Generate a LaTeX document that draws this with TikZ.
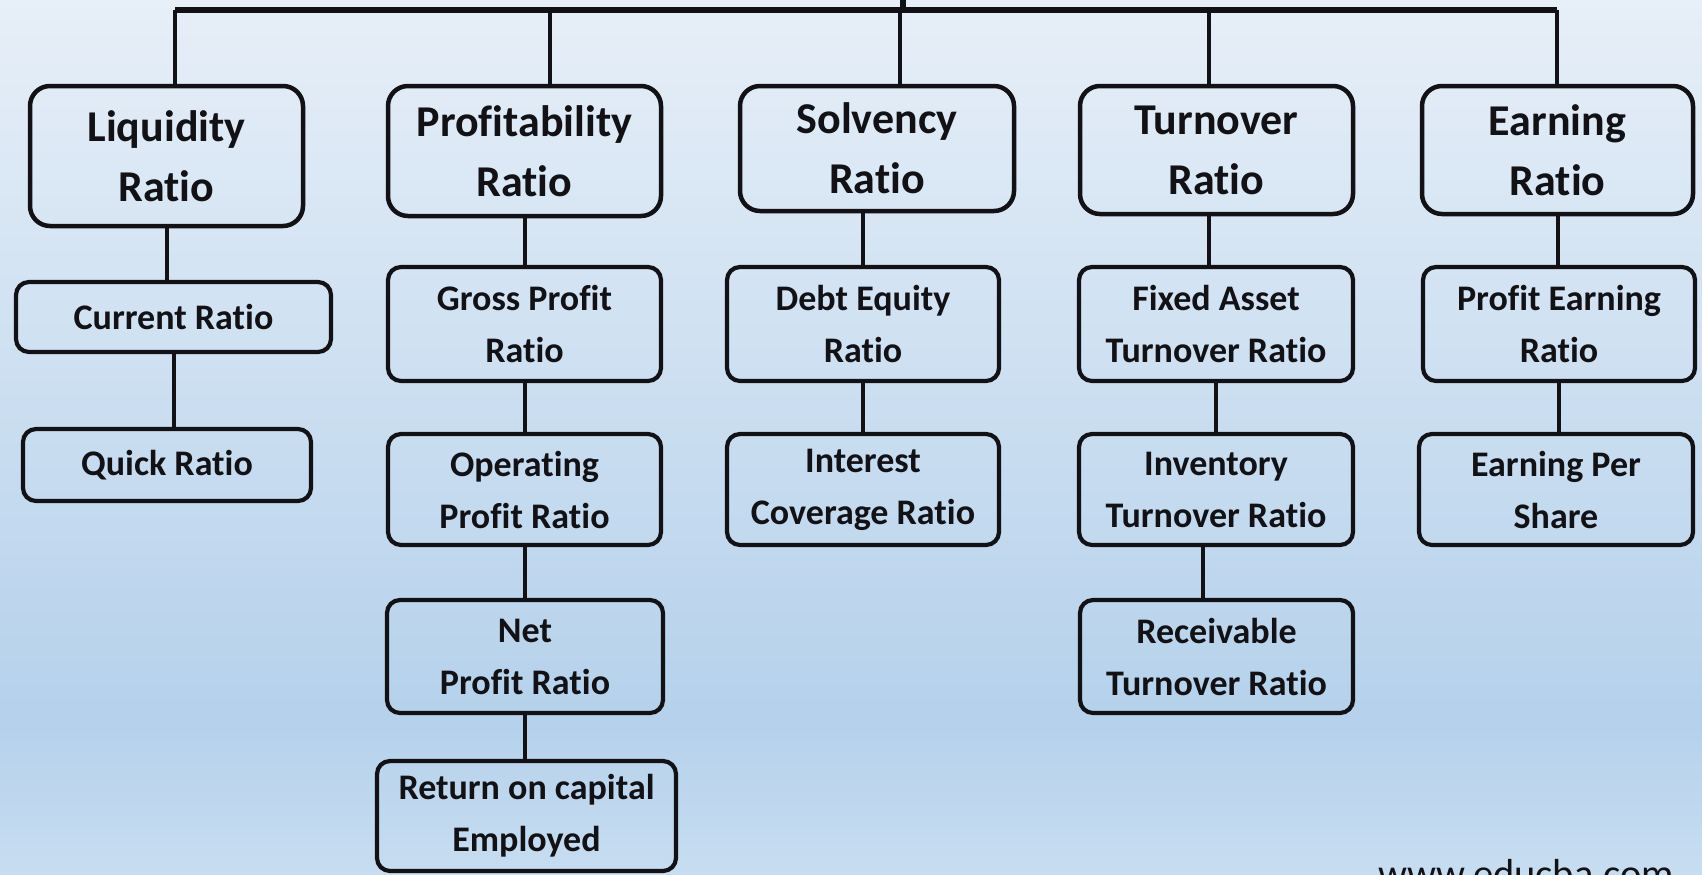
\documentclass[tikz,border=0pt]{standalone}
\usepackage{fontspec}
\setmainfont{Carlito}[Ligatures=NoCommon]
\usetikzlibrary{calc}
\definecolor{bgtop}{RGB}{231,239,248}
\definecolor{bgmid}{RGB}{181,209,235}
\definecolor{bgbot}{RGB}{199,221,241}
\definecolor{ink}{RGB}{18,18,22}
\begin{document}
\begin{tikzpicture}[x=1pt,y=-1pt,
  catbox/.style={draw=ink, line width=4.5pt, rounded corners=20pt, inner sep=0pt,
    align=center, text=ink, font=\fontsize{44}{60}\selectfont\bfseries},
  ratiobox/.style={draw=ink, line width=4.2pt, rounded corners=13pt, inner sep=0pt,
    align=center, text=ink, font=\fontsize{36}{52}\selectfont\bfseries},
  link/.style={draw=ink, line width=4pt},
  bus/.style={draw=ink, line width=5.5pt}]

% page frame and background
\useasboundingbox (0,0) rectangle (1702,875);
\clip (0,0) rectangle (1702,875);
\shade[top color=bgtop, bottom color=bgmid] (0,0) rectangle (1702,720);
\shade[top color=bgmid, bottom color=bgbot] (0,720) rectangle (1702,875);

% category boxes
\node[catbox, minimum width=273pt, minimum height=140pt] (liq)  at (166.5,156)  {Liquidity\\Ratio};
\node[catbox, minimum width=273pt, minimum height=130pt] (prof) at (524.5,151)  {Profitability\\Ratio};
\node[catbox, minimum width=274pt, minimum height=125pt] (solv) at (877,148.5)  {Solvency\\Ratio};
\node[catbox, minimum width=273pt, minimum height=128pt] (turn) at (1216.5,150) {Turnover\\Ratio};
\node[catbox, minimum width=271pt, minimum height=128pt] (earn) at (1557.5,150) {Earning\\Ratio};

% individual ratios
\node[ratiobox, minimum width=315pt, minimum height=70pt]  (cur)   at (173.5,317)   {Current Ratio};
\node[ratiobox, minimum width=288pt, minimum height=72pt]  (quick) at (167,465)     {Quick Ratio};

\node[ratiobox, minimum width=273pt, minimum height=114pt] (gross) at (524.5,324)   {Gross Profit\\Ratio};
\node[ratiobox, minimum width=273pt, minimum height=111pt] (oper)  at (524.5,489.5) {Operating\\Profit Ratio};
\node[ratiobox, minimum width=276pt, minimum height=113pt] (net)   at (525,656.5)   {Net\\Profit Ratio};
\node[ratiobox, minimum width=299pt, minimum height=110pt] (ret)   at (526.5,816)   {Return on capital\\Employed};

\node[ratiobox, minimum width=272pt, minimum height=114pt] (debt)  at (863,324)     {Debt Equity\\Ratio};
\node[ratiobox, minimum width=272pt, minimum height=111pt] (inter) at (863,489.5)   {Interest\\Coverage Ratio};

\node[ratiobox, minimum width=274pt, minimum height=114pt] (fixed) at (1216,324)    {Fixed Asset\\Turnover Ratio};
\node[ratiobox, minimum width=274pt, minimum height=111pt] (inv)   at (1216,489.5)  {Inventory\\Turnover Ratio};
\node[ratiobox, minimum width=273pt, minimum height=113pt] (rec)   at (1216.5,656.5){Receivable\\Turnover Ratio};

\node[ratiobox, minimum width=272pt, minimum height=114pt] (pe)    at (1559,324)    {Profit Earning\\Ratio};
\node[ratiobox, minimum width=274pt, minimum height=111pt] (eps)   at (1556,489.5)  {Earning Per\\Share};

% top bus and drops
\coordinate (root) at (903,0);
\coordinate (b1) at (175,10);
\coordinate (b2) at (550,10);
\coordinate (b3) at (900,10);
\coordinate (b4) at (1209,10);
\coordinate (b5) at (1557,10);
\draw[bus] (b1) -- (b5);
\draw[bus] (root) -- (root |- b1);
\draw[link] (b1) -- (b1 |- liq.north);
\draw[link] (b2) -- (b2 |- prof.north);
\draw[link] (b3) -- (b3 |- solv.north);
\draw[link] (b4) -- (b4 |- turn.north);
\draw[link] (b5) -- (b5 |- earn.north);

% liquidity chain
\draw[link] (liq.south) -- (liq.south |- cur.north);
\draw[link] (cur.south) -- (cur.south |- quick.north);

% profitability chain
\draw[link] (prof.south) -- (prof.south |- gross.north);
\draw[link] (gross.south) -- (gross.south |- oper.north);
\draw[link] (oper.south) -- (oper.south |- net.north);
\draw[link] (net.south) -- (net.south |- ret.north);

% solvency chain
\draw[link] (debt.north |- solv.south) -- (debt.north);
\draw[link] (debt.south) -- (inter.north);

% turnover chain
\coordinate (xr) at (1203,0);
\draw[link] (b4 |- turn.south) -- (b4 |- fixed.north);
\draw[link] (fixed.south) -- (fixed.south |- inv.north);
\draw[link] (xr |- inv.south) -- (xr |- rec.north);

% earning chain
\draw[link] (earn.south) -- (earn.south |- pe.north);
\draw[link] (pe.south) -- (pe.south |- eps.north);

% site address
\node[anchor=base west, inner sep=0pt, text=ink, font=\fontsize{40.5}{48}\selectfont] (web) at (1378,887) {www.educba.com};
\end{tikzpicture}
\end{document}
